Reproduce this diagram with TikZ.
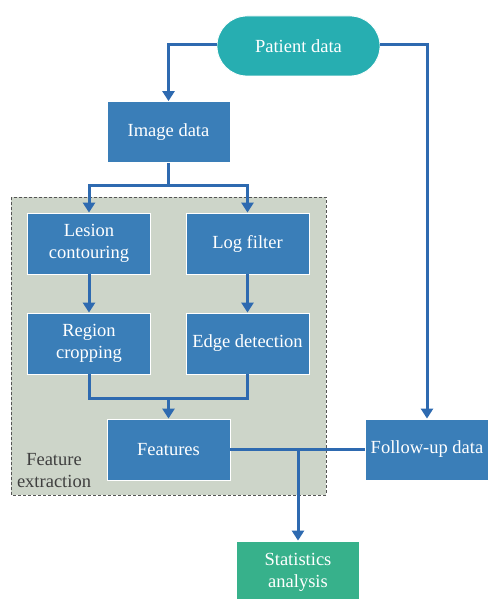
\documentclass[tikz,border=0pt]{standalone}
\usepackage{fontspec}
\setmainfont{Liberation Serif}
\usetikzlibrary{arrows.meta}
\definecolor{boxblue}{HTML}{3A7EB8}
\definecolor{tealc}{HTML}{27AEB1}
\definecolor{greenc}{HTML}{37B18B}
\definecolor{linec}{HTML}{2E6AB0}
\definecolor{panel}{HTML}{CDD5C9}
\definecolor{panelborder}{HTML}{555555}
\definecolor{labelc}{HTML}{3F3F3F}
\begin{document}
\begin{tikzpicture}[x=1pt,y=-1pt,
  bx/.style={draw=white, line width=0.8pt, fill=boxblue, text=white, align=center,
    minimum width=123pt, minimum height=61pt, inner sep=2pt,
    font=\fontsize{18.5}{22}\selectfont},
  conn/.style={draw=linec, line width=3pt, -{Triangle[length=10pt,width=12pt]}},
  plain/.style={draw=linec, line width=3pt}
]
\useasboundingbox (0,0) rectangle (488,599);
% panel
\draw[fill=panel, draw=panelborder, line width=1pt, dash pattern=on 3pt off 2pt] (11,197) rectangle (326,495);
\node[text=labelc, align=center, font=\fontsize{18.5}{22}\selectfont] (fe) at (54,471) {Feature\\extraction};
% nodes
\node[draw=white, line width=0.8pt, fill=tealc, text=white, rounded corners=30pt,
  minimum width=163pt, minimum height=60pt, font=\fontsize{18.5}{22}\selectfont] (pd) at (298.5,46) {Patient data};
\node[bx] (img) at (168.5,132) {Image data};
\node[bx] (les) at (89,243.5) {Lesion\\contouring};
\node[bx] (log) at (247.5,243.5) {Log filter};
\node[bx] (reg) at (89,343.5) {Region\\cropping};
\node[bx] (edge) at (247.5,343.5) {Edge detection};
\node[bx] (feat) at (168.5,449.5) {Features};
\node[bx] (fu) at (427,449.5) {Follow-up data};
\node[bx, fill=greenc, minimum height=62pt] (stat) at (298,572) {Statistics\\analysis};
% connectors
\draw[conn] (pd.west |- 0,45) -| (img.north);
\draw[conn] (pd.east |- 0,45) -| (fu.north);
\coordinate (s1) at (168.5,185);
\draw[plain] (img.south) -- (s1);
\draw[conn] (s1) -| (les.north);
\draw[conn] (s1) -| (log.north);
\draw[conn] (les.south) -- (reg.north);
\draw[conn] (log.south) -- (edge.north);
\coordinate (s2) at (168.5,398);
\draw[plain] (reg.south) |- (s2);
\draw[plain] (edge.south) |- (s2);
\draw[conn] (s2) -- (feat.north);
\draw[plain] (feat.east) -- (fu.west);
\coordinate (s3) at (298,449.5);
\draw[conn] (s3) -- (stat.north);
\end{tikzpicture}
\end{document}
